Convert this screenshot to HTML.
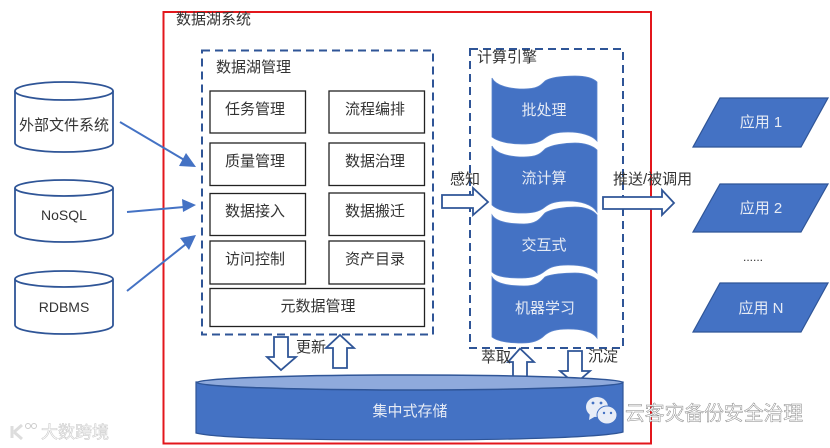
<!DOCTYPE html>
<html><head><meta charset="utf-8"><style>
html,body{margin:0;padding:0;background:#fff;width:830px;height:448px;overflow:hidden}
svg{display:block}
text{font-family:"Liberation Sans","Noto Sans CJK SC",sans-serif;font-size:15px;fill:#333}
.c{text-anchor:middle}
.w{fill:#e6ebf5}
.b{fill:#fff;stroke:#222;stroke-width:1.3}
.o{fill:#fff;stroke:#2f5597;stroke-width:1.8}
.f{fill:#4472c4;stroke:#2f5597;stroke-width:1.2}
.d{fill:none;stroke:#2f5597;stroke-width:2;stroke-dasharray:8 5}
.l{stroke:#4472c4;stroke-width:2;fill:none}
.h{fill:#4472c4}
</style></head><body>
<svg width="830" height="448" viewBox="0 0 830 448" xmlns="http://www.w3.org/2000/svg">
<rect x="163.5" y="12" width="487.5" height="431.5" fill="none" stroke="#e3171c" stroke-width="2"/>
<text x="176" y="24">数据湖系统</text>

<!-- left cylinders -->
<g fill="#fff" stroke="#2f5597" stroke-width="1.8">
<path d="M15 91V143C15 148 37 152 64 152S113 148 113 143V91"/><ellipse cx="64" cy="91" rx="49" ry="9"/>
<path d="M15 188V233C15 238 37 242 64 242S113 238 113 233V188"/><ellipse cx="64" cy="188" rx="49" ry="8"/>
<path d="M15 279V325C15 330 37 334 64 334S113 330 113 325V279"/><ellipse cx="64" cy="279" rx="49" ry="8"/>
</g>
<text class="c" x="64" y="130">外部文件系统</text>
<text class="c" x="64" y="220" style="font-size:14px">NoSQL</text>
<text class="c" x="64" y="312" style="font-size:14px">RDBMS</text>

<!-- management -->
<rect class="d" x="202" y="50.5" width="231" height="284"/>
<text x="216" y="72">数据湖管理</text>
<rect class="b" x="210" y="91" width="95.5" height="42"/><text class="c" x="255" y="114">任务管理</text>
<rect class="b" x="329" y="91" width="95.5" height="42"/><text class="c" x="375" y="114">流程编排</text>
<rect class="b" x="210" y="143" width="95.5" height="42.5"/><text class="c" x="255" y="166">质量管理</text>
<rect class="b" x="329" y="143" width="95.5" height="42.5"/><text class="c" x="375" y="166">数据治理</text>
<rect class="b" x="210" y="193.500" width="95.5" height="42"/><text class="c" x="255" y="216">数据接入</text>
<rect class="b" x="329" y="193" width="95.5" height="42.5"/><text class="c" x="375" y="216">数据搬迁</text>
<rect class="b" x="210" y="241" width="95.5" height="43"/><text class="c" x="255" y="264">访问控制</text>
<rect class="b" x="329" y="241" width="95.5" height="43"/><text class="c" x="375" y="264">资产目录</text>
<rect class="b" x="210" y="288.500" width="214.5" height="38"/><text class="c" x="318" y="311">元数据管理</text>

<!-- engine -->
<rect class="d" x="470" y="49" width="153" height="299"/>
<text x="477" y="62">计算引擎</text>
<g fill="#4472c4" stroke="#5b84cc" stroke-width=".8">
<path d="M492 78C496 86 510 89 524 89C538 89 541 85 545 81C551 77 565 76 575 76C585 76 593 78 597 82V141C592 135 580 132 568 132C556 132 550 134 545 138C539 143 532 144 522 144C508 144 497 141 492 137Z"/>
<path d="M492 146C496 154 510 157 524 157C538 157 541 153 545 149C551 145 565 143 575 143C585 143 593 146 597 150V212C592 204 580 201 568 201C556 201 550 203 545 207C539 212 532 213 522 213C508 213 497 210 492 205Z"/>
<path d="M492 215C496 222 510 224 524 224C538 224 541 217 545 213C551 209 565 207 575 207C585 207 593 210 597 215V273C592 267 580 265 568 265C556 265 550 267 545 271C539 276 532 278 522 278C508 278 497 277 492 272Z"/>
<path d="M492 277C496 284 510 286 524 286C538 286 541 281 545 277C551 274 565 273 575 273C585 273 593 276 597 280V338C592 331 580 329 568 329C556 329 550 331 545 335C539 341 532 343 522 343C508 343 497 341 492 337Z"/>
</g>
<text class="c w" x="544" y="115">批处理</text>
<text class="c w" x="544" y="183">流计算</text>
<text class="c w" x="544" y="250">交互式</text>
<text class="c w" x="545" y="313">机器学习</text>

<!-- block arrows -->
<path class="o" d="M442 195H473V188L488 202L473 215V208H442Z"/>
<path class="o" d="M603 197H662V190L674 203L662 215V209H603Z"/>
<text x="450" y="184">感知</text>
<text x="613" y="184">推送/被调用</text>
<path class="o" d="M274 337H288V357H296L281 370L267 357H274Z"/>
<path class="o" d="M333 368H347V348H354L340 335L326 348H333Z"/>
<text x="296" y="352">更新</text>
<path class="o" d="M513 380V362H508L520 348.500L534 362H527V380Z"/>
<path class="o" d="M568 351H582V371H590L575 384L560 371H568Z"/>
<text x="481" y="362">萃取</text>
<text x="588" y="361">沉淀</text>

<!-- storage -->
<path class="f" stroke-width="1.500" d="M196 382V433C215 438 300 440 410 440S605 437 623 432V382Z"/>
<ellipse cx="410" cy="382.500" rx="213" ry="7.500" fill="#8faadc" stroke="#2f5597" stroke-width="1.500"/>
<text class="c w" x="410" y="416">集中式存储</text>

<!-- input arrows -->
<path class="l" d="M120 122L186 161"/><path class="h" d="M196 167L179 166L186 153Z"/>
<path class="l" d="M127 212L184 207"/><path class="h" d="M196 205L183 212L182 199Z"/>
<path class="l" d="M127 291L186 244"/><path class="h" d="M196 235L189 250L180 238Z"/>

<!-- apps -->
<path class="f" d="M720 98H828L801 147H693Z"/>
<path class="f" d="M720 184H828L801 232H693Z"/>
<path class="f" d="M720 283H828L801 332H693Z"/>
<text class="c w" x="761" y="127">应用 1</text>
<text class="c w" x="761" y="213">应用 2</text>
<text class="c w" x="761" y="313">应用 N</text>
<text class="c" x="753" y="261" style="font-size:12px">......</text>

<!-- watermarks -->
<g fill="#e8edf7">
<ellipse cx="597" cy="407" rx="11" ry="10"/><path d="M590 413L589 420L596 416Z"/>
<ellipse cx="607" cy="415" rx="10" ry="9" stroke="#4472c4"/>
</g>
<g fill="#4472c4"><circle cx="593" cy="403" r="1.400"/><circle cx="601" cy="403" r="1.400"/><circle cx="604" cy="413" r="1.200"/><circle cx="611" cy="413" r="1.200"/></g>
<text x="625" y="420" style="font-size:19.800px;fill:#fff;stroke:#888;stroke-width:.5px">云客灾备份安全治理</text>
<text x="41" y="438" style="font-size:17px;fill:#fff;stroke:#ccc;stroke-width:.6px">大数跨境</text>
<path d="M12 426V438M14 432L22 425M14 432L22 439" fill="none" stroke="#ddd" stroke-width="3"/>
<circle cx="28" cy="426" r="2.500" fill="none" stroke="#ccc"/><circle cx="34" cy="426" r="2.500" fill="none" stroke="#ccc"/>
</svg>
</body></html>
